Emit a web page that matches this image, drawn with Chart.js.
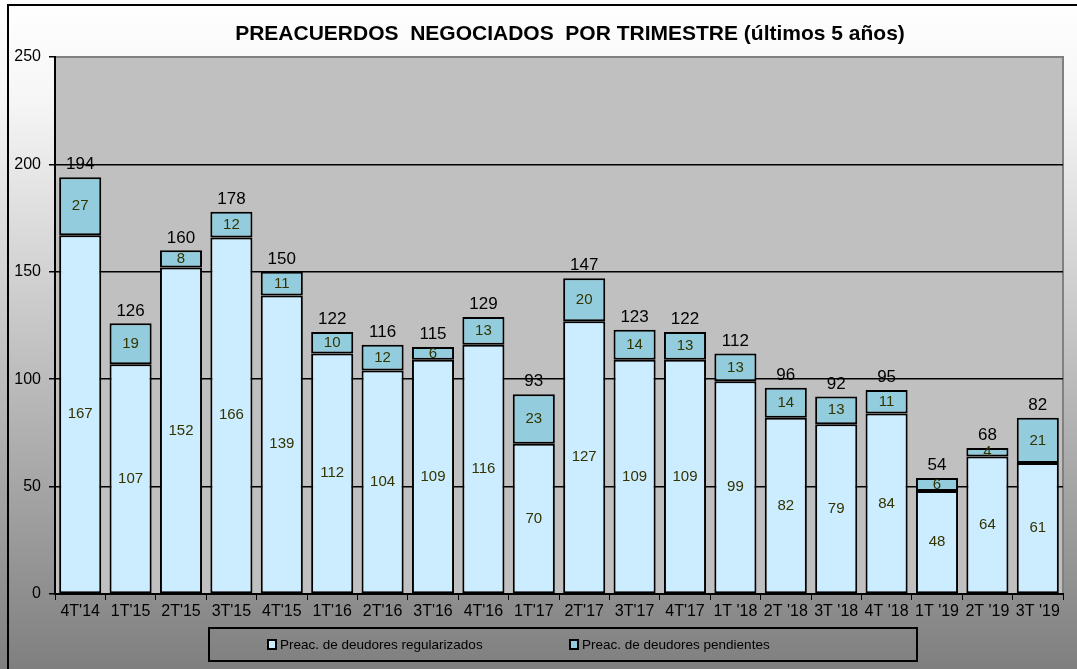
<!DOCTYPE html>
<html>
<head>
<meta charset="utf-8">
<script src="https://cdn.jsdelivr.net/npm/chart.js@4/dist/chart.umd.min.js"></script>
<style>
  html, body { margin: 0; padding: 0; background: #fff; }
  #wrap { width: 1077px; height: 669px; position: relative; }
</style>
</head>
<body>
<div id="wrap"><canvas id="chart" width="1077" height="669"></canvas></div>
<script>
const quarters = ["4T'14", "1T'15", "2T'15", "3T'15", "4T'15", "1T'16", "2T'16", "3T'16", "4T'16", "1T'17",
  "2T'17", "3T'17", "4T'17", "1T '18", "2T '18", "3T '18", "4T '18", "1T '19", "2T '19", "3T '19"];
const regularizados = [167, 107, 152, 166, 139, 112, 104, 109, 116, 70, 127, 109, 109, 99, 82, 79, 84, 48, 64, 61];
const pendientes = [27, 19, 8, 12, 11, 10, 12, 6, 13, 23, 20, 14, 13, 13, 14, 13, 11, 6, 4, 21];
const totales = [194, 126, 160, 178, 150, 122, 116, 115, 129, 93, 147, 123, 122, 112, 96, 92, 95, 54, 68, 82];
const yTicks = [0, 50, 100, 150, 200, 250];
const titulo = 'PREACUERDOS  NEGOCIADOS  POR TRIMESTRE (últimos 5 años)';

const FONT = "'Liberation Sans', Arial, sans-serif";

// fondo degradado, marco y area gris del grafico
const backdrop = {
  id: 'backdrop',
  beforeDraw(chart) {
    const {ctx, chartArea: a, width, height} = chart;
    ctx.save();
    const g = ctx.createLinearGradient(0, 0, 0, height);
    g.addColorStop(0, '#ffffff');
    g.addColorStop(0.15, '#f6f6f6');
    g.addColorStop(1, '#7f7f7f');
    ctx.fillStyle = g;
    ctx.fillRect(0, 0, width, height);
    ctx.strokeStyle = '#000';
    ctx.lineWidth = 2;
    ctx.beginPath();
    ctx.moveTo(8, height);
    ctx.lineTo(8, 5);
    ctx.lineTo(width, 5);
    ctx.stroke();
    ctx.fillStyle = '#c0c0c0';
    ctx.fillRect(a.left, a.top, a.right - a.left, a.bottom - a.top);
    ctx.strokeStyle = '#808080';
    ctx.lineWidth = 2;
    ctx.beginPath();
    ctx.moveTo(a.left, a.top);
    ctx.lineTo(a.right, a.top);
    ctx.lineTo(a.right, a.bottom);
    ctx.stroke();

    ctx.fillStyle = '#000';
    ctx.font = 'bold 21px ' + FONT;
    ctx.textAlign = 'center';
    ctx.textBaseline = 'middle';
    ctx.fillText(titulo, 570, 34);
    ctx.restore();
  }
};

// etiquetas de valores y leyenda con recuadro
const labels = {
  id: 'labels',
  afterDatasetsDraw(chart) {
    const {ctx} = chart;
    ctx.save();
    ctx.textAlign = 'center';
    ctx.textBaseline = 'middle';
    ctx.font = '15px ' + FONT;
    ctx.fillStyle = '#333300';
    chart.data.datasets.forEach((ds, i) => {
      chart.getDatasetMeta(i).data.forEach((bar, j) => {
        const mid = (bar.y + bar.base) / 2;
        ctx.fillText(String(ds.data[j]), bar.x, mid);
      });
    });
    ctx.font = '17px ' + FONT;
    ctx.fillStyle = '#000';
    ctx.textBaseline = 'bottom';
    const top = chart.getDatasetMeta(1).data;
    top.forEach((bar, j) => {
      ctx.fillText(String(totales[j]), bar.x, bar.y - 4);
    });

    // leyenda
    const lx = 209, ly = 628, lw = 708, lh = 33;
    ctx.strokeStyle = '#000';
    ctx.lineWidth = 2;
    ctx.strokeRect(lx, ly, lw, lh);
    ctx.font = '13.5px ' + FONT;
    ctx.textAlign = 'left';
    ctx.textBaseline = 'middle';
    const items = [[268, 0], [570, 1]];
    items.forEach(([x, i]) => {
      const ds = chart.data.datasets[i];
      ctx.fillStyle = ds.backgroundColor;
      ctx.fillRect(x, ly + 12, 8, 9);
      ctx.strokeRect(x, ly + 12, 8, 9);
      ctx.fillStyle = '#000';
      ctx.fillText(ds.label, x + 12, ly + 17);
    });
    ctx.restore();
  }
};

new Chart(document.getElementById('chart'), {
  type: 'bar',
  data: {
    labels: quarters,
    datasets: [
      {
        label: 'Preac. de deudores regularizados',
        data: regularizados,
        backgroundColor: '#ccecff',
        borderColor: '#000',
        borderWidth: 2,
        borderSkipped: false,
        categoryPercentage: 1,
        barPercentage: 0.835
      },
      {
        label: 'Preac. de deudores pendientes',
        data: pendientes,
        backgroundColor: '#93cddd',
        borderColor: '#000',
        borderWidth: 2,
        borderSkipped: false,
        categoryPercentage: 1,
        barPercentage: 0.835
      }
    ]
  },
  options: {
    responsive: false,
    animation: false,
    layout: {padding: {left: 0, right: 14, top: 57, bottom: 0}},
    plugins: {
      legend: {display: false},
      tooltip: {enabled: false},
      title: {display: false}
    },
    scales: {
      x: {
        stacked: true,
        grid: {drawOnChartArea: false, tickLength: 6, color: '#000', offset: true},
        border: {color: '#000', width: 2},
        ticks: {color: '#000', font: {family: FONT, size: 16}, padding: 2, maxRotation: 0, autoSkip: false},
        afterFit(scale) { scale.height = 75; }
      },
      y: {
        stacked: true,
        min: 0,
        max: 250,
        afterBuildTicks(scale) { scale.ticks = yTicks.map(v => ({value: v})); },
        grid: {
          color: ctx => ctx.tick && ctx.tick.value === 250 ? '#808080' : '#000',
          tickColor: '#000',
          tickLength: 6,
          lineWidth: 1.5
        },
        border: {color: '#000', width: 2},
        ticks: {color: '#000', font: {family: FONT, size: 16}, padding: 8},
        afterFit(scale) { scale.width = 55; }
      }
    }
  },
  plugins: [backdrop, labels]
});
</script>
</body>
</html>
